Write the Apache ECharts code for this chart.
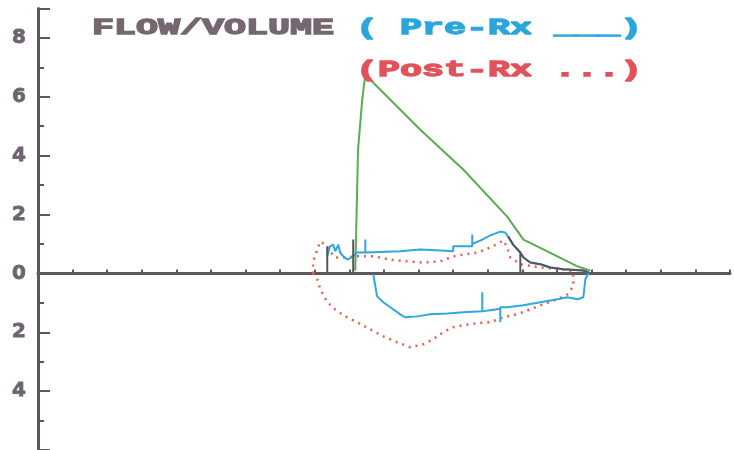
<!DOCTYPE html>
<html>
<head>
<meta charset="utf-8">
<script src="https://cdn.jsdelivr.net/npm/echarts@6/dist/echarts.min.js"></script>
<style>
html,body{margin:0;padding:0;background:#ffffff;}
#chart{width:734px;height:450px;}
</style>
</head>
<body>
<div id="chart"></div>
<script>
// Titles
const titleMain = 'FLOW/VOLUME';
const titlePre = '( Pre-Rx ___)';
const titlePost = '(Post-Rx ...)';

// Y tick labels (flow, shown unsigned)
const yLabelValues = [-4, -2, 0, 2, 4, 6, 8];

// Green curve (predicted expiratory)
const greenCurve = [
  [9.17, 0.10], [9.25, 4.2], [9.37, 5.9], [9.46, 6.75],
  [11.05, 4.88], [12.29, 3.53], [13.56, 1.93], [14.03, 1.15],
  [14.43, 0.92], [15.01, 0.58], [15.59, 0.24], [15.96, 0.10]
];

// Pre-Rx loop (solid blue): expiration then inspiration
const preRx = [
  [8.36, 0.58], [8.44, 0.92], [8.53, 0.98], [8.59, 0.75], [8.68, 0.98],
  [8.73, 0.71], [8.82, 0.58], [8.94, 0.47], [9.11, 0.58], [9.22, 0.71],
  [9.46, 0.71], [9.46, 1.15], [9.46, 0.71], [10.47, 0.75], [11.05, 0.81],
  [11.63, 0.78], [12.0, 0.75], [12.0, 0.92], [12.55, 0.92], [12.55, 1.32],
  [12.55, 1.0], [12.84, 1.15], [13.07, 1.29], [13.36, 1.42], [13.50, 1.39],
  [13.59, 1.25], [13.73, 0.98], [13.94, 0.71], [14.03, 0.54], [14.23, 0.37],
  [14.52, 0.31], [14.81, 0.20], [15.18, 0.14], [15.76, 0.10], [15.91, 0.03],
  [15.88, -0.03], [15.82, -0.2], [15.76, -0.81], [15.59, -0.88], [15.30, -0.81],
  [15.01, -0.88], [14.52, -0.98], [14.03, -1.08], [13.56, -1.15], [13.36, -1.15],
  [13.36, -1.66], [13.36, -1.20], [13.07, -1.25], [12.84, -1.29], [12.84, -0.64],
  [12.84, -1.29], [12.29, -1.32], [11.83, -1.36], [11.34, -1.39], [10.96, -1.46],
  [10.61, -1.49], [10.47, -1.39], [10.18, -1.15], [9.98, -0.98], [9.80, -0.78],
  [9.75, -0.44], [9.69, -0.03]
];

// Post-Rx loop (dotted red)
const postRx = [
  [7.95, 0], [7.95, 0.41], [8.07, 0.81], [8.16, 1.08], [8.30, 0.98],
  [8.44, 0.75], [8.59, 0.54], [8.88, 0.54], [9.22, 0.58], [9.69, 0.58],
  [10.18, 0.47], [10.67, 0.41], [11.13, 0.37], [11.63, 0.41], [12.0, 0.58],
  [12.29, 0.64], [12.70, 0.71], [13.07, 0.88], [13.45, 1.12], [13.56, 0.88],
  [13.65, 0.54], [13.94, 0.31], [14.52, 0.20], [15.10, 0.14], [15.47, 0.07],
  [15.47, -0.10], [15.47, -0.44], [15.30, -0.71], [15.01, -0.88], [14.60, -1.05],
  [14.23, -1.22], [13.85, -1.39], [13.45, -1.49], [13.07, -1.66], [12.70, -1.69],
  [12.29, -1.76], [12.0, -1.83], [11.71, -2.0], [11.42, -2.24], [11.13, -2.41],
  [10.76, -2.51], [10.38, -2.34], [9.98, -2.14], [9.60, -1.90], [9.22, -1.66],
  [8.94, -1.49], [8.65, -1.29], [8.36, -0.98], [8.16, -0.54], [8.07, -0.20],
  [7.95, 0]
];

// Dark overprinted segments
const overlap = [
  [8.36, 0], [8.36, 0.92], null,
  [9.11, 0], [9.11, 1.15], null,
  [13.59, 1.25], [13.73, 0.98], [13.94, 0.71], [13.94, 0], null,
  [13.94, 0.71], [14.03, 0.54], [14.23, 0.37], [14.52, 0.31], [14.81, 0.20],
  [15.18, 0.14], [15.76, 0.10], [15.91, 0.03]
];

const chart = echarts.init(document.getElementById('chart'));
const axisColor = '#5e565d';
const titleFont = 'bold 22px "Liberation Mono", "Courier New", monospace';

function titleText(x, y, text, color) {
  return {
    type: 'text', x: x, y: y, scaleX: 1.667, z: 10,
    style: { text: text, fill: color, stroke: color, lineWidth: 1.3, font: titleFont, verticalAlign: 'middle' }
  };
}

chart.setOption({
  backgroundColor: '#ffffff',
  animation: false,
  grid: { left: 38, top: 8.5, width: 692, height: 442.5, containLabel: false },
  xAxis: {
    type: 'value', min: 0, max: 20, interval: 1,
    axisLine: { onZero: true, lineStyle: { color: axisColor, width: 3 } },
    axisTick: { inside: true, length: 4, lineStyle: { color: axisColor, width: 2 } },
    axisLabel: { show: false },
    splitLine: { show: false }
  },
  yAxis: [
    {
      type: 'value', min: -6, max: 9, interval: 2,
      axisLine: { show: true, lineStyle: { color: axisColor, width: 3 } },
      axisTick: { inside: true, length: 12, lineStyle: { color: axisColor, width: 2 } },
      axisLabel: {
        margin: 12, color: '#6e6470',
        fontFamily: '"DejaVu Sans", sans-serif',
        fontWeight: 'bold', fontSize: 20,
        textBorderColor: '#6e6470', textBorderWidth: 0.8,
        formatter: function (v) { return yLabelValues.indexOf(v) >= 0 ? String(Math.abs(v)) : ''; }
      },
      splitLine: { show: false }
    },
    {
      type: 'value', min: -6, max: 9, interval: 1, position: 'left',
      axisLine: { show: false },
      axisTick: { inside: true, length: 6, lineStyle: { color: axisColor, width: 2 } },
      axisLabel: { show: false },
      splitLine: { show: false }
    }
  ],
  series: [
    {
      type: 'line', name: 'Predicted', data: greenCurve, showSymbol: false, symbol: 'none',
      lineStyle: { color: '#5aac52', width: 2 }, z: 3
    },
    {
      type: 'line', name: 'Post-Rx', data: postRx, showSymbol: false, symbol: 'none',
      lineStyle: { color: '#e6604e', width: 2.5, type: [2, 5] }, z: 4
    },
    {
      type: 'line', name: 'Pre-Rx', data: preRx, showSymbol: false, symbol: 'none',
      lineStyle: { color: '#2ea8de', width: 2 }, z: 5
    },
    {
      type: 'line', name: 'overlap', data: overlap, showSymbol: false, symbol: 'none',
      connectNulls: false,
      lineStyle: { color: '#5a5458', width: 2 }, z: 6
    }
  ],
  graphic: [
    titleText(92, 28, titleMain, '#74676f'),
    titleText(356, 28, titlePre, '#2aa6dc'),
    titleText(356, 70, titlePost, '#e2525a')
  ]
});
</script>
</body>
</html>
